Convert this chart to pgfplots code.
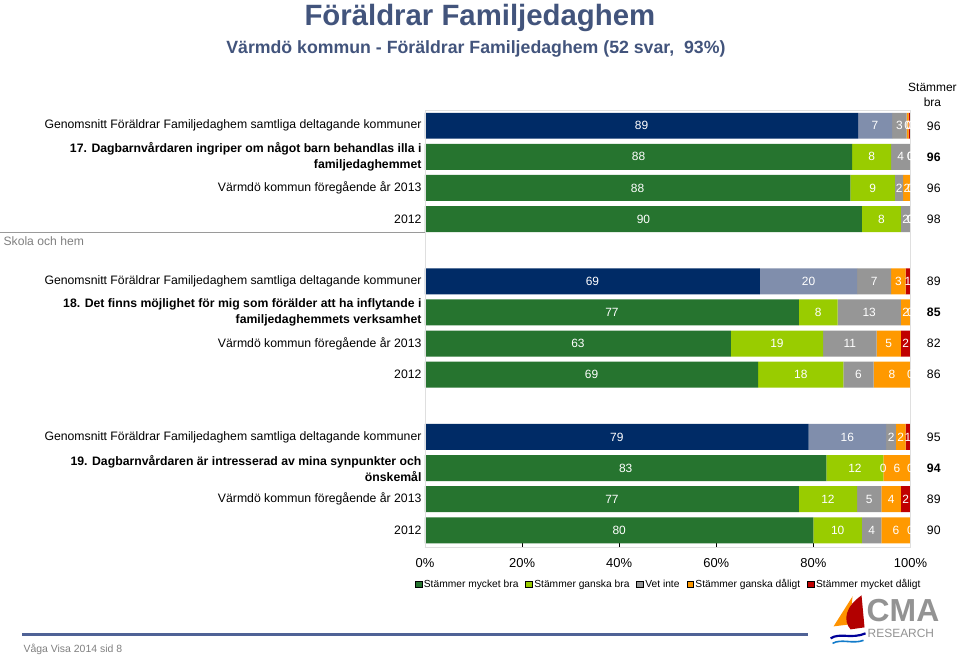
\documentclass[border=0pt]{standalone}
\usepackage{fontspec}
\setmainfont{Liberation Sans}
\usepackage{pgfplots}
\pgfplotsset{compat=1.18}
\usepackage{pgfplotstable}
\pgfplotsset{/pgf/number format/assume math mode=true}
\definecolor{cnavy}{RGB}{0,43,102}
\definecolor{cgreyblue}{RGB}{128,142,172}
\definecolor{cdgreen}{RGB}{38,116,47}
\definecolor{clgreen}{RGB}{153,204,0}
\definecolor{cvet}{RGB}{150,150,150}
\definecolor{corange}{RGB}{255,153,0}
\definecolor{cred}{RGB}{192,0,0}
\definecolor{ctitle}{RGB}{66,84,124}
\definecolor{cline}{RGB}{79,98,150}
\definecolor{cfoot}{RGB}{128,128,128}

% rows at y = -k ; first two answers for the average rows are drawn in navy / grey-blue
\pgfplotstableread{
y    navy  dgreen greyblue lgreen vet  orange red
0    89.2  0      7        0      3    0.4    0.4
-1   0     88     0        8      4    0      0
-2   0     87.6   0        9.2    1.7  1.5    0
-3   0     90     0        8      2    0      0
-5   69    0      20       0      7    3      1
-6   0     77     0        8      13   2      0
-7   0     63     0        19     11   5      2
-8   0     68.6   0        17.6   6.2  7.6    0
-10  79    0      16       0      2    2      1
-11  0     82.7   0        11.7   0    5.6    0
-12  0     77     0        12     5    4      2
-13  0     80     0        10     4    6      0
}\data
% label values and segment centres
\pgfplotstablecreatecol[create col/expr={\thisrow{navy}+\thisrow{dgreen}}]{a}\data
\pgfplotstablecreatecol[create col/expr={\thisrow{greyblue}+\thisrow{lgreen}}]{b}\data
\pgfplotstablecreatecol[create col/expr={\thisrow{a}/2}]{ca}\data
\pgfplotstablecreatecol[create col/expr={\thisrow{a}+\thisrow{b}/2}]{cb}\data
\pgfplotstablecreatecol[create col/expr={\thisrow{a}+\thisrow{b}+\thisrow{vet}/2}]{cv}\data
\pgfplotstablecreatecol[create col/expr={\thisrow{a}+\thisrow{b}+\thisrow{vet}+\thisrow{orange}/2}]{co}\data
\pgfplotstablecreatecol[create col/expr={\thisrow{a}+\thisrow{b}+\thisrow{vet}+\thisrow{orange}+\thisrow{red}/2}]{cr}\data

\pgfplotsset{
  geom/.style={at={(425bp,109bp)}, anchor=south west,
    scale only axis, width=486bp, height=437.7bp,
    xmin=0, xmax=100, ymin=-13.55, ymax=0.5, clip=false},
  seg/.style={fill=#1, draw=none, forget plot},
  lab/.style={draw=none, mark=none, forget plot, point meta=explicit,
    nodes near coords={\pgfmathprintnumber[fixed,precision=0]{\pgfplotspointmeta}},
    every node near coord/.style={anchor=center, text=white, font=\fontsize{12}{12}\selectfont}},
}

\begin{document}
\begin{tikzpicture}
\fill[white] (0,0) rectangle (960bp,657bp);
% titles
\node[anchor=base, text=ctitle, font=\fontsize{29.5}{29.5}\selectfont\bfseries] at (480bp,631bp) {Föräldrar Familjedaghem};
\node[anchor=base, text=ctitle, font=\fontsize{17.8}{17.8}\selectfont\bfseries] at (476bp,603bp) {Värmdö kommun - Föräldrar Familjedaghem (52 svar,\ \ 93\%)};
% right column header
\node[align=center, font=\fontsize{12}{16}\selectfont, anchor=center] at (933bp,562bp) {Stämmer\\bra};
% section label
\draw[cfoot!80, line width=0.8bp] (0bp,424bp) -- (425bp,424bp);
\node[anchor=base west, inner sep=0pt, text=cfoot, font=\fontsize{12.2}{12.2}\selectfont] at (3bp,411bp) {Skola och hem};

\begin{axis}[
  geom,
  xbar stacked, bar width=0.835,
  axis line style={draw=none},
  xtick={0,20,...,100},
  xtick pos=left,
  xticklabel={\pgfmathprintnumber{\tick}\%},
  tick align=inside, major tick length=4bp,
  xtick style={draw=black, line width=0.8bp},
  ytick style={draw=none},
  x tick label style={font=\fontsize{13}{13}\selectfont, yshift=-7.5bp},
  y tick label style={font=\fontsize{12.3}{16}\selectfont, align=right},
  ytick={0,-1,-2,-3,-5,-6,-7,-8,-10,-11,-12,-13},
  yticklabels={
    Genomsnitt Föräldrar Familjedaghem samtliga deltagande kommuner,
    {\textbf{17. Dagbarnvårdaren ingriper om något barn behandlas illa i}\\\textbf{familjedaghemmet}},
    Värmdö kommun föregående år 2013,
    2012,
    Genomsnitt Föräldrar Familjedaghem samtliga deltagande kommuner,
    {\textbf{18. Det finns möjlighet för mig som förälder att ha inflytande i}\\\textbf{familjedaghemmets verksamhet}},
    Värmdö kommun föregående år 2013,
    2012,
    Genomsnitt Föräldrar Familjedaghem samtliga deltagande kommuner,
    {\textbf{19. Dagbarnvårdaren är intresserad av mina synpunkter och}\\\textbf{önskemål}},
    Värmdö kommun föregående år 2013,
    2012},
  legend columns=5,
  legend style={at={(0.502,-0.0845)}, anchor=center, draw=none, fill=none,
    font=\fontsize{10.3}{10.3}\selectfont,
    /tikz/every even column/.append style={column sep=5bp}},
  legend image code/.code={\fill[#1] (0bp,-3bp) rectangle (6.5bp,3.5bp);},
]
\draw[gray!25, line width=0.8bp] (rel axis cs:0,0) rectangle (rel axis cs:1,1);
\addplot[seg=cnavy] table[x=navy, y=y] {\data};
\addplot[seg=cdgreen] table[x=dgreen, y=y] {\data};
\addplot[seg=cgreyblue] table[x=greyblue, y=y] {\data};
\addplot[seg=clgreen] table[x=lgreen, y=y] {\data};
\addplot[seg=cvet] table[x=vet, y=y] {\data};
\addplot[seg=corange] table[x=orange, y=y] {\data};
\addplot[seg=cred] table[x=red, y=y] {\data};
\draw[black, line width=0.8bp] (rel axis cs:0,0) -- (rel axis cs:1,0);
\addlegendimage{fill=cdgreen}\addlegendentry{Stämmer mycket bra}
\addlegendimage{fill=clgreen}\addlegendentry{Stämmer ganska bra}
\addlegendimage{fill=cvet}\addlegendentry{Vet inte}
\addlegendimage{fill=corange}\addlegendentry{Stämmer ganska dåligt}
\addlegendimage{fill=cred}\addlegendentry{Stämmer mycket dåligt}
\end{axis}

% segment labels
\begin{axis}[geom, hide axis]
\addplot[lab] table[x=ca, y=y, meta=a] {\data};
\addplot[lab] table[x=cb, y=y, meta=b] {\data};
\addplot[lab] table[x=cv, y=y, meta=vet] {\data};
\addplot[lab] table[x=co, y=y, meta=orange] {\data};
\addplot[lab] table[x=cr, y=y, meta=red] {\data};
\end{axis}

% right column: Stämmer bra (row k at y = 531.08 - 31.15 k)
\begin{scope}[every node/.style={anchor=west, font=\fontsize{12.3}{12.3}\selectfont}]
\node at (924bp,531.08bp) {96};
\node at (924bp,499.93bp) {\textbf{96}};
\node at (924bp,468.78bp) {96};
\node at (924bp,437.63bp) {98};
\node at (924bp,375.33bp) {89};
\node at (924bp,344.18bp) {\textbf{85}};
\node at (924bp,313.03bp) {82};
\node at (924bp,281.88bp) {86};
\node at (924bp,219.58bp) {95};
\node at (924bp,188.43bp) {\textbf{94}};
\node at (924bp,157.28bp) {89};
\node at (924bp,126.13bp) {90};
\end{scope}

% footer
\fill[cline] (22bp,20bp) rectangle (808bp,23.5bp);
\node[anchor=base west, inner sep=0pt, text=cfoot, font=\fontsize{10.5}{10.5}\selectfont] at (23bp,4bp) {Våga Visa 2014 sid 8};
% CMA logo
\fill[orange!85!yellow] (853bp,60bp) -- (834bp,30bp) -- (850bp,32bp) -- cycle;
\fill[red!70!black] (862bp,61bp) .. controls (846bp,50bp) and (843bp,36bp) .. (851bp,27bp) -- (865bp,29bp) -- cycle;
\draw[blue!60!black, line width=2.2bp] (831bp,18bp) .. controls (840bp,24bp) and (852bp,17bp) .. (866bp,23bp);
\draw[cyan!60!blue, line width=1.6bp] (833bp,13bp) .. controls (842bp,18bp) and (853bp,12bp) .. (864bp,16bp);
\node[anchor=base west, inner sep=0pt, text=gray!85, font=\fontsize{32}{32}\selectfont\bfseries] at (867bp,35bp) {CMA};
\node[anchor=base west, inner sep=0pt, text=gray!85, font=\fontsize{12}{12}\selectfont] at (868bp,18.5bp) {RESEARCH};
\end{tikzpicture}
\end{document}
